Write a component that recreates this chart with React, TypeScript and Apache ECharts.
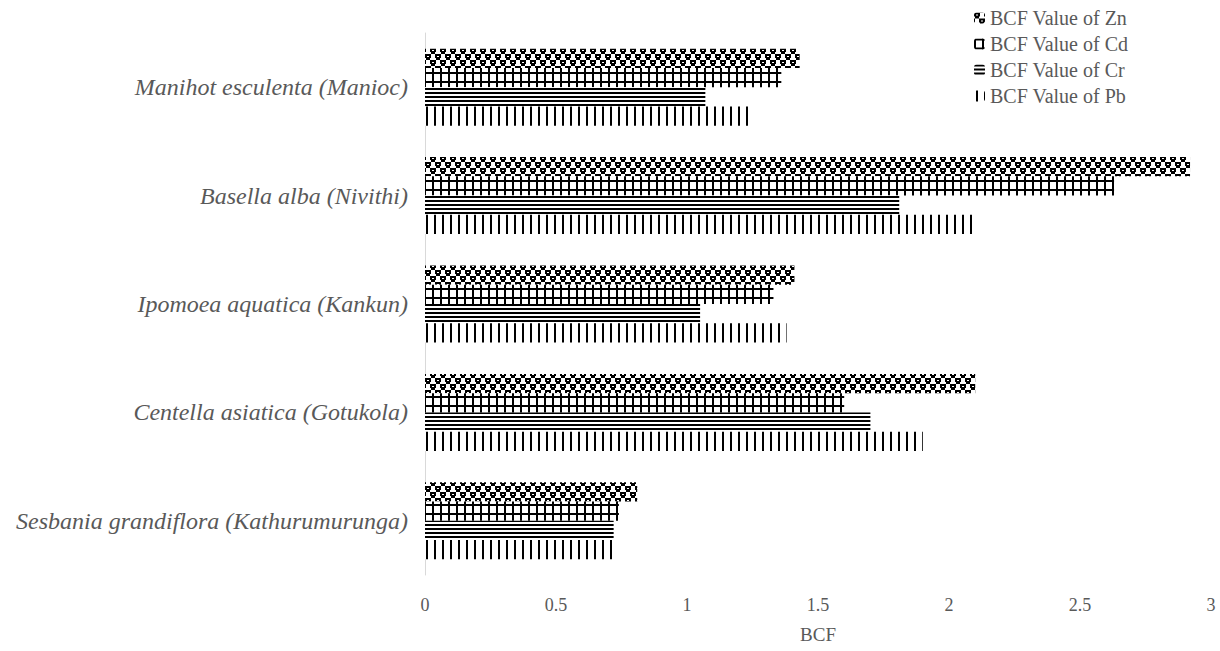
import React, { useEffect, useRef } from "react";
import * as echarts from "echarts";

// Plant species shown on the category axis (bottom to top)
const categories = [
  "Sesbania grandiflora (Kathurumurunga)",
  "Centella asiatica (Gotukola)",
  "Ipomoea aquatica (Kankun)",
  "Basella alba (Nivithi)",
  "Manihot esculenta (Manioc)",
];

// Bioconcentration factor values per metal
const znValues = [0.81, 2.1, 1.41, 2.92, 1.43];
const cdValues = [0.74, 1.6, 1.33, 2.63, 1.36];
const crValues = [0.72, 1.7, 1.05, 1.81, 1.07];
const pbValues = [0.73, 1.9, 1.38, 2.1, 1.25];

const seriesNames = [
  "BCF Value of Zn",
  "BCF Value of Cd",
  "BCF Value of Cr",
  "BCF Value of Pb",
];

const GRAY = "#595959";
const FONT = "Liberation Serif, Times New Roman, serif";

function makeTile(w: number, h: number, draw: (ctx: CanvasRenderingContext2D) => void) {
  const c = document.createElement("canvas");
  c.width = w;
  c.height = h;
  const ctx = c.getContext("2d")!;
  ctx.fillStyle = "#ffffff";
  ctx.fillRect(0, 0, w, h);
  ctx.fillStyle = "#000000";
  draw(ctx);
  return c;
}

// Checkered "sphere" fill
function sphereTile() {
  return makeTile(10, 12, (ctx) => {
    const blob = (x: number, y: number) => {
      ctx.fillStyle = "#000";
      ctx.fillRect(x, y, 6, 4);
      ctx.fillRect(x + 1, y + 4, 4, 2);
      ctx.fillStyle = "#fff";
      ctx.fillRect(x + 2, y + 2, 2, 1);
    };
    blob(0, 0);
    blob(10, 0);
    blob(5, 6);
    blob(-5, 6);
  });
}

// Large grid fill
function gridTile() {
  return makeTile(8, 9, (ctx) => {
    ctx.fillRect(0, 0, 2, 9);
    ctx.fillRect(0, 0, 8, 2);
  });
}

// Dark horizontal lines
function hLineTile() {
  return makeTile(4, 4, (ctx) => {
    ctx.fillRect(0, 0, 4, 2);
  });
}

// Wide vertical lines
function vLineTile() {
  return makeTile(8, 4, (ctx) => {
    ctx.fillRect(2, 0, 2, 4);
  });
}

export default function App() {
  const ref = useRef<HTMLDivElement>(null);

  useEffect(() => {
    if (!ref.current) return;
    const chart = echarts.init(ref.current, null, { renderer: "svg" });

    const fills = [sphereTile(), gridTile(), hLineTile(), vLineTile()].map((img) => ({
      image: img,
      repeat: "repeat",
    }));
    const dataSets = [znValues, cdValues, crValues, pbValues];

    chart.setOption({
      animation: false,
      backgroundColor: "#ffffff",
      grid: { left: 425, right: 9, top: 33, bottom: 76 },
      legend: {
        data: seriesNames,
        orient: "vertical",
        left: 969,
        top: 3,
        itemWidth: 11,
        itemHeight: 11,
        itemGap: 6,
        textStyle: { color: GRAY, fontFamily: FONT, fontSize: 20 },
      },
      xAxis: {
        type: "value",
        min: 0,
        max: 3,
        interval: 0.5,
        name: "BCF",
        nameLocation: "middle",
        nameGap: 50,
        nameTextStyle: { color: GRAY, fontFamily: FONT, fontSize: 19 },
        axisLine: { show: false },
        axisTick: { show: false },
        splitLine: { show: false },
        axisLabel: { color: GRAY, fontFamily: FONT, fontSize: 18, margin: 21 },
      },
      yAxis: {
        type: "category",
        data: categories,
        axisLine: { show: true, lineStyle: { color: "#d9d9d9", width: 1 } },
        axisTick: { show: false },
        axisLabel: {
          color: GRAY,
          fontFamily: FONT,
          fontStyle: "italic",
          fontSize: 24,
          margin: 17,
        },
      },
      series: seriesNames.map((name, i) => ({
        name,
        type: "bar",
        data: dataSets[i],
        barGap: "0%",
        barCategoryGap: "29%",
        itemStyle: { color: fills[i] },
      })),
    });

    return () => chart.dispose();
  }, []);

  return (
    <div
      ref={ref}
      style={{ position: "absolute", left: 0, top: 0, width: 1220, height: 651 }}
    />
  );
}
